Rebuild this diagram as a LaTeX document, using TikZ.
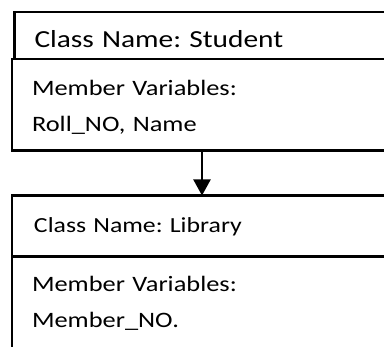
\documentclass[tikz,border=0pt]{standalone}
\usepackage{fontspec}
\setmainfont{Carlito}[FakeStretch=1.2]
\usetikzlibrary{positioning,arrows.meta}
\frenchspacing

\begin{document}
\begin{tikzpicture}[x=1pt, y=-1pt, node distance=45pt,
                    class box/.style={draw, line width=2.6pt, outer sep=0pt, inner ysep=0pt,
                                      inner xsep=20pt, minimum width=380pt, text width=340pt, align=left},
                    body font/.style={font=\fontsize{22}{36}\selectfont}]

  \useasboundingbox (0,0) rectangle (384,347);
  \clip (0,0) rectangle (384,347);

  \node[class box, anchor=north west, text height=35.8pt, text depth=11pt,
        font=\fontsize{24.5}{30}\selectfont] (sname) at (14.5,12.2) {Class Name: Student};
  \node[class box, body font, anchor=north west, text height=37pt, text depth=54.5pt]
        (svars) at ([xshift=-2.5pt]sname.south west) {Member Variables:\\Roll\_NO, Name};

  \node[class box, below=45pt of svars, inner xsep=22pt, text width=336pt,
        text height=37.5pt, text depth=23.5pt, font=\fontsize{21.5}{30}\selectfont]
        (lname) {Class Name: Library};
  \node[class box, body font, below=0pt of lname, text height=35.5pt, text depth=78pt]
        (lvars) {Member Variables:\\Member\_NO.};

  \draw[line width=2.2pt, -{Triangle[width=17pt,length=16pt]}] (svars) -- (lname);

\end{tikzpicture}
\end{document}
